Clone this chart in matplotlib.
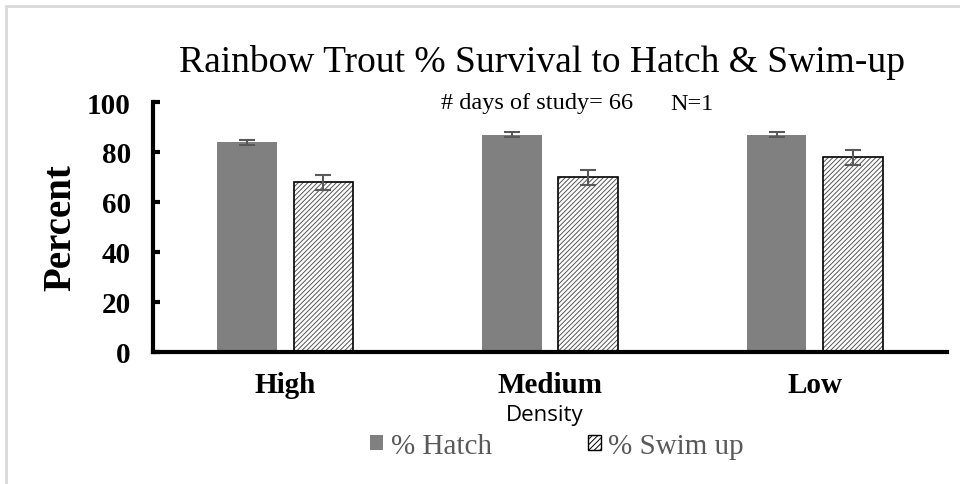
import matplotlib
matplotlib.use("Agg")
import matplotlib.pyplot as plt
import numpy as np
from matplotlib.patches import Patch, Rectangle

categories = ["High", "Medium", "Low"]
hatch_vals = [84, 87, 87]
hatch_err = [1, 1, 1]
swim_vals = [68, 70, 78]
swim_err = [3, 3, 3]
yticks = [0, 20, 40, 60, 80, 100]

plt.rcParams['hatch.linewidth'] = 0.7
plt.rcParams['hatch.color'] = '#555555'

fig = plt.figure(figsize=(9.6, 4.85), dpi=100)
# light gray frame
fig.patches.append(Rectangle((6/960, -0.1), 2.0, 1.1 - 6.5/485, transform=fig.transFigure,
                             fill=False, edgecolor='#d9d9d9', linewidth=2))

ax = fig.add_axes([153/960, 1-353/485, (947-153)/960, 250/485])
x = np.arange(len(categories))
w = 0.226
off = 0.144
serif = 'Liberation Serif'

ax.bar(x - off, hatch_vals, w, color='#808080', yerr=hatch_err,
       error_kw=dict(ecolor='#595959', elinewidth=1.5, capsize=6, capthick=1.5), zorder=2)
ax.bar(x + off, swim_vals, w, color='white', hatch='///////', edgecolor='#555555', linewidth=0, zorder=2)
ax.bar(x + off, swim_vals, w, color='none', edgecolor='black', linewidth=1.2, yerr=swim_err,
       error_kw=dict(ecolor='#595959', elinewidth=1.5, capsize=6, capthick=1.5), zorder=3)

ax.set_xlim(-0.5, 2.5)
ax.set_ylim(0, 100)
ax.set_yticks(yticks)
ax.set_yticklabels([str(t) for t in yticks], fontfamily=serif, fontweight='bold', fontsize=21)
ax.set_xticks(x)
ax.set_xticklabels(categories, fontfamily=serif, fontweight='bold', fontsize=21)
ax.tick_params(axis='y', direction='in', length=5, width=3, pad=16)
ax.tick_params(axis='x', length=0, pad=14)
for s in ['top', 'right']:
    ax.spines[s].set_visible(False)
ax.spines['left'].set_linewidth(3)
ax.spines['bottom'].set_linewidth(3)
ax.spines['left'].set_bounds(0, 100)

ax.set_ylabel('Percent', fontfamily=serif, fontweight='bold', fontsize=28)
ax.yaxis.set_label_coords(-(153-79)/794, 0.5)
fig.text(542/960, 1-63/485, 'Rainbow Trout % Survival to Hatch & Swim-up', fontfamily=serif,
         fontsize=27, ha='center', va='center')
fig.text(441/960, 1-104/485, '# days of study= 66', fontfamily=serif, fontsize=17.5,
         ha='left', va='center')
fig.text(670/960, 1-104/485, 'N=1', fontfamily=serif, fontsize=17.5,
         ha='left', va='center')
fig.text(545/960, 1-416/485, 'Density', fontfamily='Open Sans', fontsize=16, ha='center', va='center')

handles = [Patch(facecolor='#808080', edgecolor='none'),
           Patch(facecolor='white', edgecolor='black', hatch='//////', linewidth=1)]
leg = fig.legend(handles, ['% Hatch', '% Swim up'], loc='center', bbox_to_anchor=(557/960, 1-447/485),
                 ncol=2, frameon=False, prop={'family': serif, 'size': 21}, handlelength=0.45,
                 handleheight=0.45, handletextpad=0.25, columnspacing=3.3)
for t in leg.get_texts():
    t.set_color('#595959')

fig.savefig('out.png', dpi=100)
